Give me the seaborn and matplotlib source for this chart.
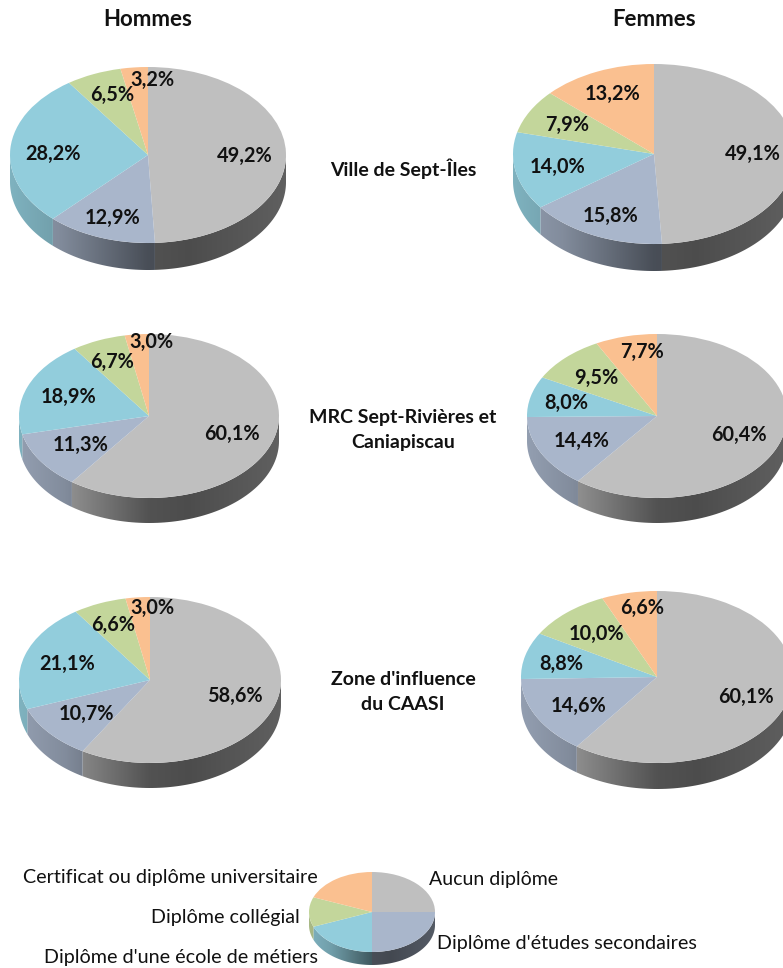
# -*- coding: utf-8 -*-
"""Scolarité par sexe et territoire: secteurs en fausse 3D."""

import numpy as np
import matplotlib
matplotlib.use("Agg")
import matplotlib.pyplot as plt
from matplotlib.patches import Polygon
import seaborn as sns

W, H = 783, 968

CATEGORIES = ["Aucun diplôme", "Diplôme d'études secondaires", "Diplôme d'une école de métiers",
              "Diplôme collégial", "Certificat ou diplôme universitaire"]
COLUMNS = ["Hommes", "Femmes"]
ROWS = ["Ville de Sept-Îles", "MRC Sept-Rivières et\nCaniapiscau", "Zone d'influence\ndu CAASI"]

SEPT_ILES_H = [49.2, 12.9, 28.2, 6.5, 3.2]
SEPT_ILES_F = [49.1, 15.8, 14.0, 7.9, 13.2]
MRC_H = [60.1, 11.3, 18.9, 6.7, 3.0]
MRC_F = [60.4, 14.4, 8.0, 9.5, 7.7]
CAASI_H = [58.6, 10.7, 21.1, 6.6, 3.0]
CAASI_F = [60.1, 14.6, 8.8, 10.0, 6.6]
LEGEND_VALUES = [25, 25, 19, 12, 19]

TOP_COLORS = sns.color_palette(["#BFBFBF", "#A9B6CB", "#92CDDC", "#C3D69B", "#FAC090"])


def draw_sides(ax, values, depth):
    """Bord du disque: teinte de la tranche, assombrie de gauche au centre."""
    edges = 90 - np.cumsum([0] + list(values)) * 360 / sum(values)
    xs = np.linspace(-1, 1, 256)
    shade = np.interp(xs, [-1, -0.65, 0, 0.3, 1], [0.87, 0.77, 0.43, 0.40, 0.50])
    for i in range(len(values)):
        # seulement la moitié avant du disque (-180 à 0 degrés)
        a = max(edges[i + 1], -180)
        b = min(edges[i], 0)
        if b <= a:
            continue
        t = np.radians(np.linspace(a, b, 80))
        x, y = np.cos(t), np.sin(t)
        pts = np.r_[np.c_[x, y], np.c_[x[::-1], y[::-1] - depth]]
        clip = Polygon(pts, closed=True, transform=ax.transData, fc="none", ec="none")
        ax.add_patch(clip)
        ramp = np.array(TOP_COLORS[i])[None, None, :] * shade[None, :, None]
        img = ax.imshow(ramp, extent=(-1, 1, -1 - depth, 1), aspect="auto", zorder=1,
                        interpolation="bilinear")
        img.set_clip_path(clip)


def draw_pie(fig, values, cx, cy, rx, ry, d):
    ax = fig.add_axes([(cx - rx) / W, 1 - (cy + ry + d) / H, 2 * rx / W, (2 * ry + d) / H])
    depth = d / ry
    draw_sides(ax, values, depth)
    ax.pie(values, colors=TOP_COLORS, startangle=90, counterclock=False, radius=1,
           wedgeprops={"linewidth": 0, "zorder": 2})
    ax.set_aspect("auto")
    ax.set_xlim(-1, 1)
    ax.set_ylim(-1 - depth, 1)
    ax.axis("off")
    return ax


def put(fig, x, y, s, size=14.3, weight="bold", ha="center"):
    fig.text(x / W, 1 - y / H, s, fontsize=size, fontweight=weight, ha=ha, va="center",
             color="#111111", linespacing=1.55, zorder=10)


sns.set_theme(style="white")
plt.rcParams["font.family"] = ["Lato", "DejaVu Sans"]

fig = plt.figure(figsize=(W / 100, H / 100), dpi=100, facecolor="white")

draw_pie(fig, SEPT_ILES_H, 148, 155, 138, 88, 27)
draw_pie(fig, SEPT_ILES_F, 654, 154, 141, 90, 27)
draw_pie(fig, MRC_H, 149, 416, 130, 82, 25)
draw_pie(fig, MRC_F, 657, 416, 130, 82, 25)
draw_pie(fig, CAASI_H, 150, 680, 131, 83, 25)
draw_pie(fig, CAASI_F, 657, 677, 136, 86, 26)
draw_pie(fig, LEGEND_VALUES, 372, 912, 63, 40, 13)

# libellés des secteurs: (x, y) en pixels
pie_labels = [
    (SEPT_ILES_H, [(245, 156), (113, 218), (53, 154), (112, 95), (152, 80)]),
    (SEPT_ILES_F, [(753, 154), (611, 216), (558, 167), (567, 125), (613, 94)]),
    (MRC_H, [(232, 434), (81, 445), (69, 397), (112, 362), (151, 342)]),
    (MRC_F, [(739, 435), (582, 441), (566, 403), (596, 378), (642, 352)]),
    (CAASI_H, [(235, 696), (86, 714), (67, 664), (113, 625), (152, 608)]),
    (CAASI_F, [(746, 697), (579, 706), (561, 664), (596, 634), (642, 608)]),
]
for vals, spots in pie_labels:
    for v, (x, y) in zip(vals, spots):
        put(fig, x, y, f"{v:.1f}%".replace(".", ","))

put(fig, 148, 20, COLUMNS[0], size=16)
put(fig, 654, 20, COLUMNS[1], size=16)
put(fig, 403, 169, ROWS[0], size=14)
put(fig, 403, 430, ROWS[1], size=14)
put(fig, 403, 692, ROWS[2], size=14)

put(fig, 429, 879, CATEGORIES[0], size=14, weight="normal", ha="left")
put(fig, 437, 944, CATEGORIES[1], size=14.2, weight="normal", ha="left")
put(fig, 318, 958, CATEGORIES[2], size=14.2, weight="normal", ha="right")
put(fig, 300, 918, CATEGORIES[3], size=14.2, weight="normal", ha="right")
put(fig, 318, 877, CATEGORIES[4], size=14.2, weight="normal", ha="right")

fig.savefig("out.png", dpi=100, facecolor="white")
